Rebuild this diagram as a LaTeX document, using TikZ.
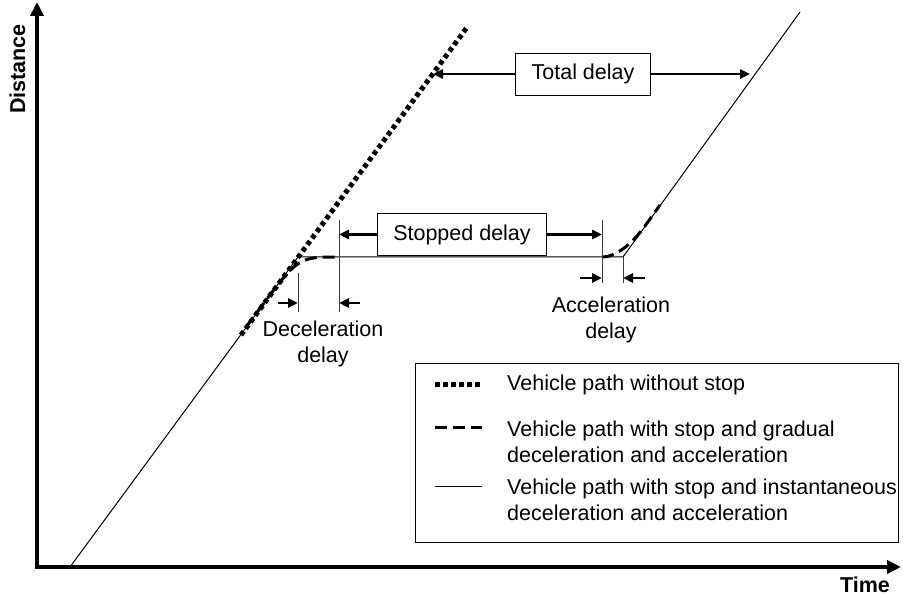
\documentclass[tikz,border=0pt]{standalone}
\usepackage{fontspec}
\setmainfont{Liberation Sans}
\usetikzlibrary{arrows.meta,positioning}

\begin{document}
\begin{tikzpicture}[
  x=1pt, y=1pt,
  font=\fontsize{21.5}{26}\selectfont,
  axis/.style={line width=4.5pt, {Triangle[length=14pt,width=13pt]}-{Triangle[length=14pt,width=13pt]}},
  delay/.style={line width=2.5pt, -{Triangle[length=10pt,width=9pt]}},
  tickline/.style={black!75, line width=0.9pt},
  labelbox/.style={draw, line width=0.9pt, inner xsep=16pt, minimum height=42pt},
  axislabel/.style={font=\fontsize{21.5}{26}\selectfont\bfseries, inner sep=0pt, anchor=base},
  nostop/.style={line width=5pt, dash pattern=on 4.5pt off 3.5pt},
  gradual/.style={line width=3pt, dash pattern=on 12pt off 6pt},
  instant/.style={line width=1pt}
]
  \useasboundingbox (0,0) rectangle (903,595);

  % axes
  \draw[axis] (37,593) |- (901,28);
  \node[axislabel, rotate=90] (dist) at (25,526) {Distance};
  \node[axislabel] (time) at (865,3) {Time};

  % vehicle paths
  \coordinate (k1) at (298,338);
  \coordinate (k2) at (623,338);
  \draw[instant] (70,28) -- (k1) -- (k2) -- (800,583);
  \draw[nostop] (241,260) -- (468,569);
  \draw[gradual] (246,268) -- (258,284) .. controls (k1) .. (339,338);
  \draw[gradual] (602,338) .. controls (618,338) and (635,355) .. (645,369) -- (660,390);

  % delay markers
  \coordinate (d1) at (298,292);
  \coordinate (d2) at (339,292);
  \coordinate (a1) at (602,317);
  \coordinate (a2) at (623,317);
  \draw[tickline] (298,283) -- (298,322);
  \draw[tickline] (339,283) -- (339,375);
  \draw[tickline] (602,312) -- (602,375);
  \draw[tickline] (623,312) -- (623,338);

  \draw[delay] (d1) ++(-20,0) -- (d1);
  \draw[delay] (d2) ++(21,0) -- (d2);
  \draw[delay] (a1) ++(-22,0) -- (a1);
  \draw[delay] (a2) ++(22,0) -- (a2);

  \node[labelbox] (stopped) at (462,360.5) {Stopped delay};
  \draw[delay] (stopped.west) -- (stopped.west -| d2);
  \draw[delay] (stopped.east) -- (stopped.east -| a1);

  \node[labelbox] (total) at (583,521) {Total delay};
  \coordinate (tl) at (433,521);
  \coordinate (tr) at (750,521);
  \draw[delay] (total.west) -- (tl);
  \draw[delay] (total.east) -- (tr);

  \node[align=center] (declbl) at (323,251) {Deceleration\\delay};
  \node[align=center] (acclbl) at (611,275) {Acceleration\\delay};

  % legend
  \node[draw, line width=0.9pt, minimum width=483pt, minimum height=179pt,
        anchor=south west] (legend) at (415,52) {};
  \node[anchor=west, align=left, inner sep=0pt] (lg1) at (507,210) {Vehicle path without stop};
  \node[anchor=west, align=left, inner sep=0pt] (lg2) at (507,153.5)
    {Vehicle path with stop and gradual\\deceleration and acceleration};
  \node[anchor=west, align=left, inner sep=0pt] (lg3) at (507,95)
    {Vehicle path with stop and instantaneous\\deceleration and acceleration};
  \draw[nostop] (lg1.west) ++(-72,0) -- ++(47,0);
  \draw[gradual] (435,167) -- ++(47,0);
  \draw[instant] (435,108) -- ++(47,0);
\end{tikzpicture}
\end{document}
